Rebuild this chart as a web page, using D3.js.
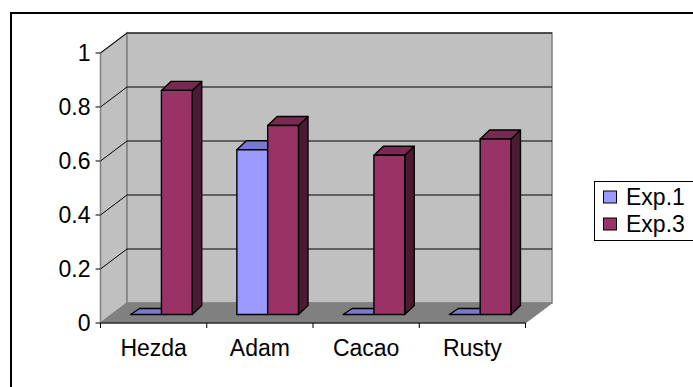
<!DOCTYPE html>
<html>
<head>
<meta charset="utf-8">
<script src="https://cdn.jsdelivr.net/npm/d3@7"></script>
<style>
  html, body { margin: 0; padding: 0; background: #fff; }
  svg { display: block; }
  text { font-family: "Liberation Sans", Arial, sans-serif; fill: #000; }
</style>
</head>
<body>
<svg id="chart" width="693" height="387"></svg>
<script>
// Chart data
const categories = ["Hezda", "Adam", "Cacao", "Rusty"];
const seriesNames = ["Exp.1", "Exp.3"];
const exp1 = [0, 0.61, 0, 0];
const exp3 = [0.83, 0.70, 0.59, 0.65];
const yTicks = [0, 0.2, 0.4, 0.6, 0.8, 1];
const yTickLabels = ["0", "0.2", "0.4", "0.6", "0.8", "1"];

const seriesValues = [exp1, exp3];
const palette = [
  { front: "#9999ff", top: "#7a7acc", side: "#4d4d80" },
  { front: "#993366", top: "#7a2952", side: "#4d1a33" }
];
const fontSize = 23;

const svg = d3.select("#chart");

// Outer chart frame
svg.append("rect")
  .attr("x", 11).attr("y", 13)
  .attr("width", 720).attr("height", 420)
  .attr("fill", "#fff").attr("stroke", "#000").attr("stroke-width", 2);

// Plot geometry: front axis plane and depth offset of the walls
const x = d3.scaleBand().domain(categories).range([100.5, 525.5]);
const y = d3.scaleLinear().domain([0, 1]).range([323, 53]);
const wallDx = 26.5, wallDy = -20;

const x0 = x.range()[0], x1 = x.range()[1];
const yTop = y(1), yBot = y(0);

const pts = a => a.map(p => p.join(",")).join(" ");

// Left side wall
svg.append("polygon")
  .attr("points", pts([[x0, yTop], [x0 + wallDx, yTop + wallDy], [x0 + wallDx, yBot + wallDy], [x0, yBot]]))
  .attr("fill", "#c0c0c0").attr("stroke", "#808080").attr("stroke-width", 1.5);

// Back wall
svg.append("polygon")
  .attr("points", pts([[x0 + wallDx, yTop + wallDy], [x1 + wallDx, yTop + wallDy], [x1 + wallDx, yBot + wallDy], [x0 + wallDx, yBot + wallDy]]))
  .attr("fill", "#c0c0c0").attr("stroke", "#808080").attr("stroke-width", 1.5);

// Floor
svg.append("polygon")
  .attr("points", pts([[x0, yBot], [x0 + wallDx, yBot + wallDy], [x1 + wallDx, yBot + wallDy], [x1, yBot]]))
  .attr("fill", "#808080").attr("stroke", "#808080").attr("stroke-width", 1);

// Gridlines on the side and back walls
const grid = svg.append("g").attr("stroke", "#000").attr("stroke-width", 1).attr("fill", "none");
yTicks.filter(t => t > 0).forEach(t => {
  grid.append("polyline")
    .attr("points", pts([[x0, y(t)], [x0 + wallDx, y(t) + wallDy], [x1 + wallDx, y(t) + wallDy]]));
});

// Value axis
const yAxis = svg.append("g");
yAxis.append("line")
  .attr("x1", x0).attr("x2", x0).attr("y1", yTop).attr("y2", yBot)
  .attr("stroke", "#808080").attr("stroke-width", 1);
yTicks.forEach((t, i) => {
  yAxis.append("line")
    .attr("x1", x0 - 5).attr("x2", x0).attr("y1", y(t)).attr("y2", y(t))
    .attr("stroke", "#000").attr("stroke-width", 1);
  yAxis.append("text")
    .attr("x", x0 - 10).attr("y", y(t) + 8)
    .attr("text-anchor", "end").attr("font-size", fontSize)
    .text(yTickLabels[i]);
});

// Category axis
const xAxis = svg.append("g");
xAxis.append("line")
  .attr("x1", x0).attr("x2", x1).attr("y1", yBot).attr("y2", yBot)
  .attr("stroke", "#000").attr("stroke-width", 1.2);
[x0, ...categories.map(c => x(c) + x.bandwidth())].forEach(px => {
  xAxis.append("line")
    .attr("x1", px).attr("x2", px).attr("y1", yBot).attr("y2", yBot + 5)
    .attr("stroke", "#000").attr("stroke-width", 1);
});
categories.forEach(c => {
  xAxis.append("text")
    .attr("x", x(c) + x.bandwidth() / 2).attr("y", 356)
    .attr("text-anchor", "middle").attr("font-size", fontSize)
    .text(c);
});

// 3D columns
const barW = 30.8;           // width of one column's front face
const groupShift = 7.8;      // columns sit a little into the depth of the floor
const frontDy = -8.5;
const depthDx = 9.5, depthDy = -9;
const flatDx = 9, flatDy = -6; // shallower footprint drawn for zero values

const bars = svg.append("g").attr("stroke", "#000").attr("stroke-width", 1.4).attr("stroke-linejoin", "round");
categories.forEach((c, ci) => {
  const gx = x(c) + x.bandwidth() / 2 + groupShift - barW;
  seriesValues.forEach((vals, si) => {
    const v = vals[ci];
    const L = gx + si * barW, R = L + barW;
    const B = y(0) + frontDy, T = y(v) + frontDy;
    const col = palette[si];
    const g = bars.append("g");
    if (v > 0) {
      g.append("polygon")
        .attr("points", pts([[R, T], [R + depthDx, T + depthDy], [R + depthDx, B + depthDy], [R, B]]))
        .attr("fill", col.side);
      g.append("polygon")
        .attr("points", pts([[L, T], [L + depthDx, T + depthDy], [R + depthDx, T + depthDy], [R, T]]))
        .attr("fill", col.top);
      g.append("rect")
        .attr("x", L).attr("y", T).attr("width", barW).attr("height", B - T)
        .attr("fill", col.front);
    } else {
      // a zero value leaves only the flat top face on the floor
      g.append("polygon")
        .attr("points", pts([[L, B], [L + flatDx, B + flatDy], [R + flatDx, B + flatDy], [R, B]]))
        .attr("fill", col.top);
    }
  });
});

// Legend
const legend = svg.append("g");
legend.append("rect")
  .attr("x", 594.5).attr("y", 181.5).attr("width", 120).attr("height", 59)
  .attr("fill", "#fff").attr("stroke", "#000").attr("stroke-width", 1);
seriesNames.forEach((name, i) => {
  const cy = 197 + i * 27;
  legend.append("rect")
    .attr("x", 603.5).attr("y", cy - 6).attr("width", 13).attr("height", 12)
    .attr("fill", palette[i].front).attr("stroke", "#000").attr("stroke-width", 1);
  legend.append("text")
    .attr("x", 626).attr("y", cy + 8)
    .attr("font-size", fontSize)
    .text(name);
});
</script>
</body>
</html>
